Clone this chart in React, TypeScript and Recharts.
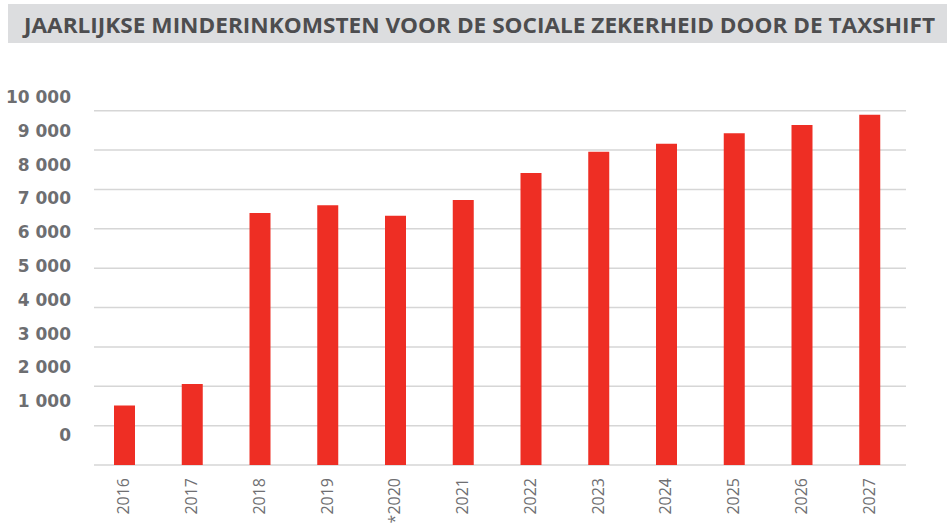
import { Bar, BarChart, CartesianGrid, XAxis, YAxis } from "recharts";

const years = ["2016", "2017", "2018", "2019", "*2020", "2021", "2022", "2023", "2024", "2025", "2026", "2027"];
const values = [1510, 2060, 6400, 6600, 6330, 6730, 7420, 7960, 8160, 8430, 8640, 8900];
const gridTicks = [0, 1000, 2000, 3000, 4000, 5000, 6000, 7000, 8000, 9000];
const labelTicks = [0, 1000, 2000, 3000, 4000, 5000, 6000, 7000, 8000, 9000, 10000];

const title = "JAARLIJKSE MINDERINKOMSTEN VOOR DE SOCIALE ZEKERHEID DOOR DE TAXSHIFT";

const chartData = years.map((year, i) => ({ year, value: values[i] }));

const formatThousands = (v: number) => String(v).replace(/\B(?=(\d{3})+(?!\d))/g, " ");

function YearTick({ x, y, payload }: { x?: number; y?: number; payload?: { value: string } }) {
  return (
    <text
      transform={`translate(${(x ?? 0) - 1}, ${(y ?? 0) + 5}) rotate(-90)`}
      textAnchor="end"
      dy="0.35em"
      fill="#6f6f72"
      fontSize={16}
      fontFamily="'Open Sans', sans-serif"
    >
      {payload?.value}
    </text>
  );
}

export default function App() {
  return (
    <div style={{ position: "absolute", left: 0, top: 0, width: 947, height: 525, background: "#fff" }}>
      <div style={{ position: "absolute", left: 8, top: 4, width: 939, height: 39, background: "#dcdddf" }}>
        <svg width={939} height={39}>
          <text
            x={16}
            y={29}
            textLength={911}
            lengthAdjust="spacingAndGlyphs"
            fill="#4d4d4f"
            fontSize={21}
            fontWeight={700}
            fontFamily="'Open Sans', sans-serif"
          >
            {title}
          </text>
        </svg>
      </div>
      <div style={{ position: "absolute", left: 0, top: 0 }}>
        <BarChart width={947} height={525} data={chartData} margin={{ top: 80, right: 41, bottom: 0, left: 0 }}>
          <CartesianGrid yAxisId="v" vertical={false} syncWithTicks stroke="#d6d6d6" strokeWidth={1.5} />
          <YAxis yAxisId="v" type="number" hide domain={[0, 9780]} ticks={gridTicks} />
          <YAxis
            yAxisId="lbl"
            type="number"
            width={94}
            domain={[-888, 10503]}
            ticks={labelTicks}
            allowDataOverflow
            tickLine={false}
            axisLine={false}
            tickSize={0}
            tickMargin={23}
            tickFormatter={formatThousands}
            tick={{ fill: "#6d6e71", fontSize: 17, fontWeight: 700, fontFamily: "'DejaVu Sans', sans-serif" }}
          />
          <XAxis
            dataKey="year"
            height={60}
            interval={0}
            tickLine={false}
            axisLine={false}
            padding={{ left: -3, right: 2 }}
            tick={<YearTick />}
          />
          <Bar yAxisId="v" dataKey="value" fill="#ee2e24" barSize={21} isAnimationActive={false} />
        </BarChart>
      </div>
    </div>
  );
}
